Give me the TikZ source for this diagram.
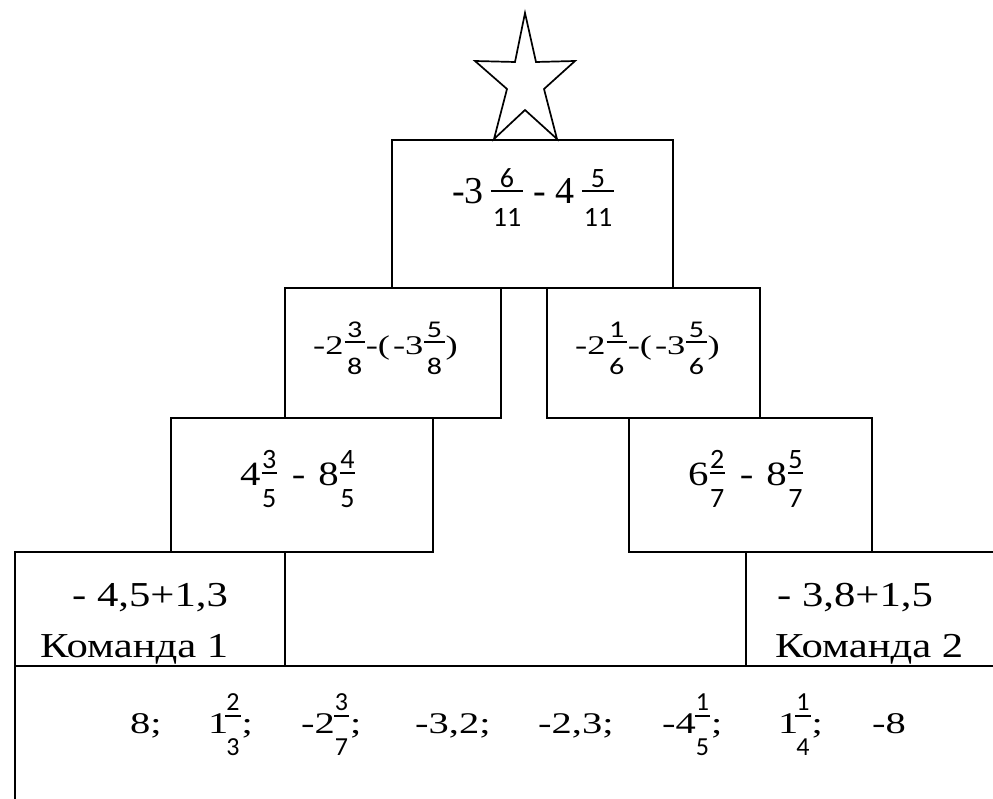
\documentclass[tikz,border=0pt]{standalone}
\usepackage{fontspec}
\setmainfont{Liberation Serif}
\newfontfamily\serA{Liberation Serif}
\newfontfamily\serB[FakeStretch=1.2]{Liberation Serif}
\newfontfamily\serC[FakeStretch=1.35]{Liberation Serif}
\newfontfamily\serK[FakeStretch=1.22]{Liberation Serif}
\newfontfamily\fracA{Carlito}
\newfontfamily\fracB[FakeStretch=1.25]{Carlito}
\newlength\frnr \newlength\frbr \newlength\frdl \newlength\frw \newlength\frpad \newlength\frpre
\def\frs{28}\def\frfam{\fracA}
\newcommand\setfr[7]{\def\frfam{#1}\def\frs{#2}\setlength\frnr{#3pt}\setlength\frbr{#4pt}%
  \setlength\frdl{#5pt}\setlength\frpad{#6pt}\setlength\frpre{#7pt}}
\newcommand\fr[2]{\begingroup\fontsize{\frs}{\frs}\frfam
  \setbox0\hbox{#1}\setbox2\hbox{#2}%
  \frw=\wd0 \ifdim\wd2>\frw \frw=\wd2\fi
  \advance\frw by 2\frpad
  \kern\frpre
  \raise\frnr\hbox to\frw{\hss\box0\hss}\kern-\frw
  \raise\frbr\hbox{\vrule width\frw height 1.8pt depth 0pt}\kern-\frw
  \lower\frdl\hbox to\frw{\hss\box2\hss}\kern1pt\endgroup}
\tikzset{
  boxline/.style={draw=black, line width=1.7pt},
  txt/.style={inner sep=0pt, anchor=base west, text=black},
}
\begin{document}
\begin{tikzpicture}[x=1pt,y=-1pt]
\useasboundingbox (0,0) rectangle (993,799);
% star
\draw[boxline, line join=miter] (525,13) -- (536,62) -- (575,61) -- (544,89) -- (557,139) -- (525,110) -- (494,139) -- (507,89) -- (475,61) -- (515,62) -- cycle;
% boxes
\draw[boxline] (392,140) rectangle (673,288);
\draw[boxline] (285,288) rectangle (501,418);
\draw[boxline] (547,288) rectangle (760,418);
\draw[boxline] (171,418) rectangle (433,552);
\draw[boxline] (629,418) rectangle (872,552);
\draw[boxline] (994,552) -- (629,552);
\draw[boxline] (433,552) -- (15,552) -- (15,800);
\draw[boxline] (15,666) -- (994,666);
\draw[boxline] (285,552) -- (285,666);
\draw[boxline] (746,552) -- (746,666);
% texts
\node[txt, font={\fontsize{38}{44}\serA}] (t0) at (452,204)
  {\setfr{\fracA}{28}{16}{12}{23}{2}{7}-3\fr{6}{11} - 4\fr{5}{11}};
\node[txt, font={\fontsize{27}{32}\serC}] (r2l) at (313,355)
  {\setfr{\fracB}{24}{17}{12}{20}{2.5}{1}-2\fr{3}{8}-(\kern3pt-3\fr{5}{8})};
\node[txt, font={\fontsize{27}{32}\serC}] (r2r) at (575,355)
  {\setfr{\fracB}{24}{17}{12}{20}{2.5}{1}-2\fr{1}{6}-(\kern3pt-3\fr{5}{6})};
\node[txt, font={\fontsize{34}{40}\serB}] (r3l) at (240,485)
  {\setfr{\fracA}{28}{17}{11}{22}{0.5}{1}4\fr{3}{5}\kern14pt-\kern13pt8\fr{4}{5}};
\node[txt, font={\fontsize{34}{40}\serB}] (r3r) at (688,485)
  {\setfr{\fracA}{28}{17}{11}{22}{0.5}{1}6\fr{2}{7}\kern14pt-\kern13pt8\fr{5}{7}};
\node[txt, font={\fontsize{35}{40}\serK}] (k1a) at (72,606) {- 4,5+1,3};
\node[txt, font={\fontsize{35}{40}\serK}] (k1b) at (40,657) {Команда 1};
\node[txt, font={\fontsize{35}{40}\serK}] (k2a) at (777,606) {- 3,8+1,5};
\node[txt, font={\fontsize{35}{40}\serK}] (k2b) at (775,657) {Команда 2};
\begin{scope}[every node/.style={txt, font={\fontsize{30}{36}\serC}}]
\node (b1) at (130,733) {8;};
\node (b2) at (208,733) {\setfr{\fracA}{26}{23}{16}{22}{1}{-3}1\fr{2}{3};};
\node (b3) at (301,733) {\setfr{\fracA}{26}{23}{16}{22}{1}{-1}-2\fr{3}{7};};
\node (b4) at (415,733) {-3,2;};
\node (b5) at (538,733) {-2,3;};
\node (b6) at (662,733) {\setfr{\fracA}{26}{23}{16}{22}{1}{-1}-4\fr{1}{5};};
\node (b7) at (778,733) {\setfr{\fracA}{26}{23}{16}{22}{1}{-3}1\fr{1}{4};};
\node (b8) at (872,733) {-8};
\end{scope}
\end{tikzpicture}
\end{document}
